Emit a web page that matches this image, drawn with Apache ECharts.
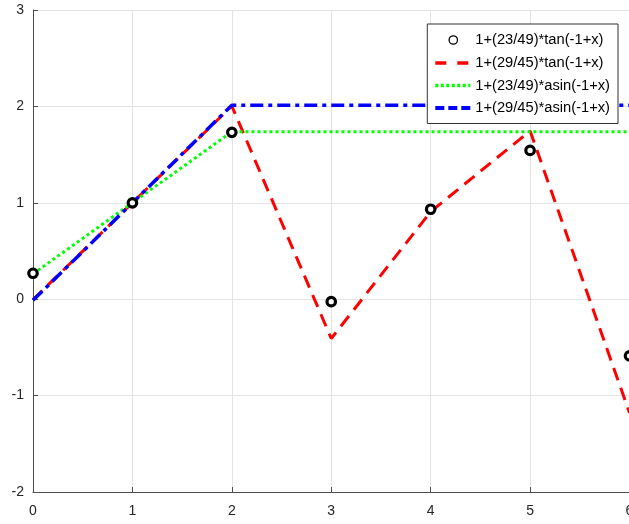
<!DOCTYPE html>
<html><head><meta charset="utf-8">
<script src="https://cdn.jsdelivr.net/npm/echarts@6/dist/echarts.min.js"></script>
<style>html,body{margin:0;padding:0;overflow:hidden;background:#fff;width:629px;height:524px}#c{width:640px;height:524px}</style>
</head><body><div id="c"></div>
<script>
const xValues = [0, 1, 2, 3, 4, 5, 6];
const tanA = [0.269, 1.0, 1.731, -0.026, 0.933, 1.543, -0.587];
const tanB = [-0.004, 1.0, 2.004, -0.408, 0.908, 1.746, -1.178];
const asinA = [0.263, 1.0, 1.737, 1.737, 1.737, 1.737, 1.737];
const asinB = [-0.012, 1.0, 2.012, 2.012, 2.012, 2.012, 2.012];
const names = ['1+(23/49)*tan(-1+x)', '1+(29/45)*tan(-1+x)', '1+(23/49)*asin(-1+x)', '1+(29/45)*asin(-1+x)'];

const pairs = a => xValues.map((x, i) => [x, a[i]]);
const circleIcon = 'image://data:image/svg+xml;utf8,' + encodeURIComponent(
  '<svg xmlns="http://www.w3.org/2000/svg" width="35" height="16" viewBox="0 0 35 16"><circle cx="18" cy="8" r="4.2" fill="none" stroke="#000" stroke-width="1.3"/></svg>');
const chart = echarts.init(document.getElementById('c'));
const axisCol = '#4d4d4d';
const hideSym = { opacity: 0 };
chart.setOption({
  animation: false,
  grid: { left: 33, right: 10.5, top: 10, bottom: 32 },
  xAxis: {
    type: 'value', min: 0, max: 6, interval: 1,
    axisLine: { show: true, onZero: false, lineStyle: { color: axisCol, width: 1 } },
    axisTick: { show: true, inside: true, length: 5, lineStyle: { color: axisCol } },
    axisLabel: { color: '#262626', fontSize: 14, fontFamily: 'Liberation Sans, Arial', margin: 12 },
    splitLine: { show: true, lineStyle: { color: '#e3e3e3', width: 1 } }
  },
  yAxis: {
    type: 'value', min: -2, max: 3, interval: 1,
    axisLine: { show: true, onZero: false, lineStyle: { color: axisCol, width: 1 } },
    axisTick: { show: true, inside: true, length: 5, lineStyle: { color: axisCol } },
    axisLabel: { color: '#262626', fontSize: 14, fontFamily: 'Liberation Sans, Arial', margin: 9 },
    splitLine: { show: true, lineStyle: { color: '#e3e3e3', width: 1 } }
  },
  legend: {
    orient: 'vertical', right: 22, top: 24, z: 20,
    backgroundColor: '#fff', borderColor: '#333', borderWidth: 1,
    padding: [8, 8, 8, 6], itemGap: 7.5, itemWidth: 35, itemHeight: 16,
    textStyle: { fontSize: 14.7, color: '#000', fontFamily: 'Liberation Sans, Arial' },
    data: [
      { name: names[0], icon: circleIcon },
      { name: names[1], itemStyle: hideSym, lineStyle: { width: 3.5, type: [11, 11] } },
      { name: names[2], itemStyle: hideSym, lineStyle: { width: 3.5, type: [3, 2.5] } },
      { name: names[3], itemStyle: hideSym, lineStyle: { width: 4, type: [9, 4] } }
    ]
  },
  series: [
    { name: names[0], type: 'line', data: pairs(tanA), showSymbol: true, symbol: 'circle', symbolSize: 8.5,
      lineStyle: { width: 0, opacity: 0 }, itemStyle: { color: '#fff', borderColor: '#000', borderWidth: 3.2 }, z: 5 },
    { name: names[1], type: 'line', data: pairs(tanB), symbol: 'none', color: '#ff0000',
      lineStyle: { color: '#ff0000', width: 3, type: [13, 8] }, z: 2 },
    { name: names[2], type: 'line', data: pairs(asinA), symbol: 'none', color: '#00ff00',
      lineStyle: { color: '#00ff00', width: 3, type: [3, 3] }, z: 3 },
    { name: names[3], type: 'line', data: pairs(asinB), symbol: 'none', color: '#0000ff',
      lineStyle: { color: '#0000ff', width: 3.5, type: [13, 5, 4, 5] }, z: 4 }
  ],
  graphic: [
    { type: 'line', shape: { x1: 33, y1: 10.5, x2: 629.5, y2: 10.5 }, style: { stroke: axisCol, lineWidth: 1 }, silent: true }
  ]
});
</script></body></html>
